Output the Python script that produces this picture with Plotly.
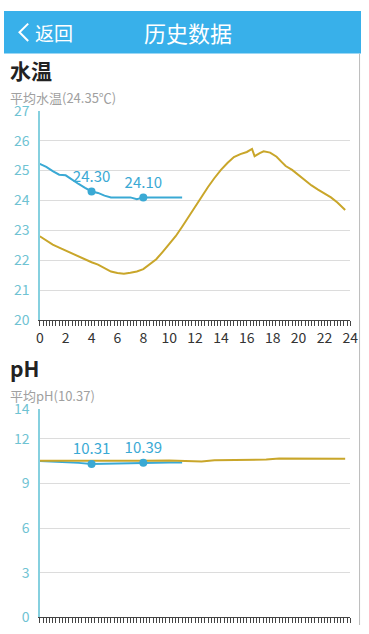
import plotly.graph_objects as go

W, H = 369, 634

# ---------------- data ----------------
temp_today_t = [0, 0.5, 1, 1.5, 2, 2.5, 3, 3.5, 4, 4.5, 5, 5.5, 6, 6.5, 7, 7.5, 8, 8.5, 9, 9.5, 10, 10.5, 11]
temp_today_v = [25.22, 25.12, 24.98, 24.86, 24.84, 24.68, 24.55, 24.42, 24.30, 24.25, 24.16, 24.10,
                24.10, 24.10, 24.10, 24.04, 24.10, 24.10, 24.10, 24.10, 24.10, 24.10, 24.10]

temp_ref_t = [0, 0.5, 1, 1.5, 2, 2.5, 3, 3.5, 4, 4.5, 5, 5.5, 6, 6.5, 7, 7.5, 8, 8.5, 9, 9.5, 10,
              10.5, 11, 11.5, 12, 12.5, 13, 13.5, 14, 14.5, 15, 15.5, 16, 16.4, 16.6, 17, 17.3,
              17.8, 18.3, 18.7, 19, 19.5, 20, 20.5, 21, 21.5, 22, 22.5, 23, 23.6]
temp_ref_v = [22.80, 22.66, 22.52, 22.42, 22.32, 22.23, 22.12, 22.02, 21.93, 21.85, 21.73, 21.62,
              21.57, 21.55, 21.58, 21.62, 21.70, 21.85, 22.03, 22.28, 22.55, 22.80, 23.12, 23.45,
              23.80, 24.15, 24.45, 24.75, 25.02, 25.25, 25.45, 25.55, 25.62, 25.72, 25.48, 25.58,
              25.64, 25.60, 25.46, 25.28, 25.15, 25.02, 24.85, 24.66, 24.50, 24.36, 24.24, 24.10,
              23.93, 23.68]

ph_today_t = [0, 1, 2, 3, 4, 5, 6, 7, 8, 9, 10, 11]
ph_today_v = [10.50, 10.47, 10.44, 10.38, 10.31, 10.33, 10.35, 10.37, 10.39, 10.40, 10.40, 10.40]

ph_ref_t = [0, 2, 4, 6, 8, 10, 11.5, 12.5, 13.5, 15, 16.5, 17.5, 18.5, 20, 22, 23.6]
ph_ref_v = [10.53, 10.52, 10.50, 10.50, 10.52, 10.54, 10.53, 10.48, 10.55, 10.56, 10.55, 10.60,
            10.68, 10.68, 10.66, 10.65]

marker_idx_temp = [8, 16]   # 4:00 and 8:00 in temp_today
marker_idx_ph = [4, 8]      # 4:00 and 8:00 in ph_today

x_ticks = list(range(0, 25, 2))
temp_ticks = [20, 21, 22, 23, 24, 25, 26, 27]
ph_ticks = [0, 3, 6, 9, 12, 14]

title_text = "历史数据"
back_text = "返回"
sec1_title = "水温"
sec1_avg = "平均水温(24.35℃)"
sec2_title = "pH"
sec2_avg = "平均pH(10.37)"

# ---------------- style ----------------
BLUE = "#3aa9d4"
GOLD = "#c9a62a"
HEADER = "#38b0ea"
TEAL = "#6fc3d3"
AXISTEAL = "#86d0df"
GRID = "#dcdcdc"
FONT = "Noto Sans CJK SC"


def px(x):
    return x / W


def py(y):
    return 1 - y / H


fig = go.Figure()

# temperature chart
fig.add_trace(go.Scatter(x=temp_today_t, y=temp_today_v, mode="lines",
                         line=dict(color=BLUE, width=2), xaxis="x", yaxis="y", hoverinfo="skip"))
fig.add_trace(go.Scatter(x=temp_ref_t, y=temp_ref_v, mode="lines",
                         line=dict(color=GOLD, width=2), xaxis="x", yaxis="y", hoverinfo="skip"))
fig.add_trace(go.Scatter(x=[temp_today_t[i] for i in marker_idx_temp],
                         y=[temp_today_v[i] for i in marker_idx_temp],
                         text=["%.2f" % temp_today_v[i] for i in marker_idx_temp],
                         mode="markers+text", textposition="top center",
                         textfont=dict(color=BLUE, size=15, family=FONT),
                         marker=dict(color=BLUE, size=8), xaxis="x", yaxis="y", hoverinfo="skip"))

# pH chart
fig.add_trace(go.Scatter(x=ph_today_t, y=ph_today_v, mode="lines",
                         line=dict(color=BLUE, width=2), xaxis="x2", yaxis="y2", hoverinfo="skip"))
fig.add_trace(go.Scatter(x=ph_ref_t, y=ph_ref_v, mode="lines",
                         line=dict(color=GOLD, width=2), xaxis="x2", yaxis="y2", hoverinfo="skip"))
fig.add_trace(go.Scatter(x=[ph_today_t[i] for i in marker_idx_ph],
                         y=[ph_today_v[i] for i in marker_idx_ph],
                         text=["%.2f" % ph_today_v[i] for i in marker_idx_ph],
                         mode="markers+text", textposition="top center",
                         textfont=dict(color=BLUE, size=15, family=FONT),
                         marker=dict(color=BLUE, size=8), xaxis="x2", yaxis="y2", hoverinfo="skip"))

xdom = [px(37), px(358)]


def xaxis_common(anchor, labels=True):
    return dict(domain=xdom, range=[0, 24], anchor=anchor, tickvals=x_ticks,
                ticks="outside", ticklen=5, tickcolor="#444", tickwidth=1,
                minor=dict(dtick=0.25, ticks="outside", ticklen=5, tickcolor="#444", tickwidth=1,
                           showgrid=False),
                showline=True, linecolor="#444", linewidth=1, showgrid=False, zeroline=False,
                showticklabels=labels,
                tickfont=dict(color="#333", size=14, family=FONT), fixedrange=True)


def yaxis_common(anchor, dom, rng, vals):
    return dict(domain=dom, range=rng, anchor=anchor, tickvals=vals,
                showline=True, linecolor=AXISTEAL, linewidth=1.5, ticks="",
                showgrid=True, gridcolor=GRID, gridwidth=1, zeroline=False,
                tickfont=dict(color=TEAL, size=14, family=FONT), ticklabelstandoff=6,
                fixedrange=True)


fig.update_layout(
    width=W, height=H, margin=dict(l=0, r=0, t=0, b=0),
    paper_bgcolor="white", plot_bgcolor="white", showlegend=False,
    xaxis=xaxis_common("y"),
    yaxis=yaxis_common("x", [py(319), py(103)], [20, 27], temp_ticks),
    # the pH hour labels fall below the bottom edge of the screen in the reference
    xaxis2=xaxis_common("y2", labels=False),
    yaxis2=yaxis_common("x2", [py(626), py(411)], [0, 14], ph_ticks),
    font=dict(family=FONT),
)

# header bar and page chrome
shapes = [
    dict(type="rect", xref="paper", yref="paper", x0=0, x1=1, y0=py(44), y1=1,
         fillcolor=HEADER, line=dict(width=0), layer="below"),
    dict(type="path", xref="paper", yref="paper",
         path="M %f %f L %f %f L %f %f" % (px(25), py(13), px(16), py(22), px(25), py(31)),
         line=dict(color="white", width=2)),
    dict(type="line", xref="paper", yref="paper", x0=px(367.5), x1=px(367.5), y0=0, y1=py(44),
         line=dict(color="#bbbbbb", width=1)),
]
fig.update_layout(shapes=shapes)

annotations = [
    dict(text=title_text, x=px(190), y=py(22), font=dict(color="white", size=22, family=FONT)),
    dict(text=back_text, x=px(30), y=py(22), xanchor="left", font=dict(color="white", size=19, family=FONT)),
    dict(text="<b>%s</b>" % sec1_title, x=px(4), y=py(61), xanchor="left",
         font=dict(color="#222", size=21, family=FONT)),
    dict(text=sec1_avg, x=px(4), y=py(89), xanchor="left", font=dict(color="#a0a0a0", size=13, family=FONT)),
    dict(text="<b>%s</b>" % sec2_title, x=px(4), y=py(369), xanchor="left",
         font=dict(color="#222", size=21, family=FONT)),
    dict(text=sec2_avg, x=px(4), y=py(397), xanchor="left", font=dict(color="#a0a0a0", size=13, family=FONT)),
]
for a in annotations:
    a.setdefault("xanchor", "center")
    a.update(xref="paper", yref="paper", yanchor="middle", showarrow=False)
fig.update_layout(annotations=annotations)

post = ("var h=document.documentElement,b=document.body;"
        "h.style.margin='0';h.style.padding='0';h.style.overflow='hidden';"
        "b.style.margin='0';b.style.padding='0';b.style.overflow='hidden';")
fig.write_html("out.html", config=dict(displayModeBar=False, staticPlot=True), post_script=post)
